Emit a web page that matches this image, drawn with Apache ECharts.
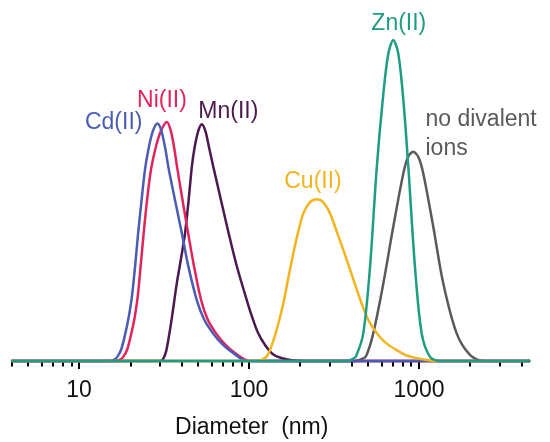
<!DOCTYPE html>
<html>
<head>
<meta charset="utf-8">
<script src="https://cdn.jsdelivr.net/npm/echarts@6/dist/echarts.min.js"></script>
<style>html,body{margin:0;padding:0;background:#fff;}#c{width:550px;height:442px;}</style>
</head>
<body>
<div id="c"></div>
<script>
// Diameter axis range (nm) and tick values
var xMin = 4, xMax = 4500;
var majorTicks = [10, 100, 1000];
var minorTicks = [4,5,6,7,8,9,20,30,40,50,60,70,80,90,200,300,400,500,600,700,800,900,2000,3000,4000];

// Series: [diameter (nm), relative intensity]
var cdData = [[4,0],[15.22,0],[16.07,0.4],[16.73,1.2],[17.66,3.5],[18.65,8.3],[19.55,13.5],[20.42,19.8],[21.35,29.5],[22.23,39.6],[23.32,50.2],[24.43,59.8],[25.81,67],[27.25,71.8],[28.88,74],[30.37,72],[32.06,66.5],[33.52,60.4],[36.71,50],[40.19,39.9],[43.96,29.4],[49.24,19],[54.36,13],[61.41,8.6],[70.33,5],[80.53,2.5],[97.32,0],[4500,0]];
var niData = [[4,0],[16.5,0],[17.42,0.4],[18.15,1.2],[19.16,3.5],[20.23,8.3],[21.21,13.5],[22.09,19.8],[23.01,29.5],[23.96,39.6],[25.12,50.2],[26.51,59.8],[28.38,67],[30.37,71.8],[32.81,74.5],[34.53,72],[36.22,66.5],[37.72,60.4],[40.63,50],[43.78,39.9],[47.49,29.4],[52.2,19],[57.0,13],[63.97,8.6],[72.75,5],[82.72,2.5],[101.4,0],[4500,0]];
var mnData = [[4,0],[29.96,0],[31.2,0.6],[32.5,3],[33.84,8],[35.25,14],[37.56,24.2],[39.81,32],[42.03,39.9],[44.08,50],[46.03,60.4],[47.81,66.5],[50.12,71.5],[52.7,73.8],[55.47,71.5],[58.17,66.5],[61.66,60.4],[68.44,50],[75.53,40.2],[85.03,29.2],[96.93,19],[104.1,13.8],[112.9,8.8],[124.2,5],[139,2],[162.9,0.6],[199.5,0],[4500,0]];
var cuData = [[4,0],[112.9,0],[119.3,0.4],[125.9,1.2],[132.9,3.4],[144.1,9],[159.2,18],[169.6,25.5],[182.2,33.6],[194.2,40],[208.6,46],[228.5,49.5],[250.1,50.4],[272.4,49.5],[299.6,46],[327.1,40.5],[358.6,34.6],[392.8,28.5],[430.1,22.3],[470.3,16.5],[515,11.8],[589.7,7.4],[657.2,5.1],[739.1,3.4],[838.3,1.8],[969.4,0.9],[1271,0],[4500,0]];
var znData = [[4,0],[377.2,0],[403.6,0.5],[426,1.5],[470,8.6],[515,29.3],[564,60.2],[617,83.3],[660,95.8],[706,100],[755,95.8],[809,81.3],[866,60.2],[947,29.3],[1037,8.6],[1161,1.3],[1330,0],[4500,0]];
var noneData = [[4,0],[426.1,0],[455.9,0.5],[487.8,1.5],[538,8.6],[617,24.2],[706,41.9],[809,58.5],[861,63.5],[925,65.2],[993,63.5],[1059,58.5],[1213,41.9],[1389,24.2],[1666,8.6],[1995,1.9],[2389,0],[4500,0]];

var seriesNames = ['no divalent ions','Mn(II)','Ni(II)','Cd(II)','Cu(II)','Zn(II)'];
var seriesData = [noneData, mnData, niData, cdData, cuData, znData];
var seriesColors = ['#5a5a5a','#4a1a4f','#e1245c','#4a5cb3','#f2b51f','#1e9c84'];
var labelColor = {'no divalent ions': '#5a5a5a', 'Mn(II)': '#4a1a4f', 'Ni(II)': '#e1245c', 'Cd(II)': '#4a5cb3', 'Cu(II)': '#f2b51f', 'Zn(II)': '#1e9c84'};

var lg = function (v) { return Math.log10(v); };
var FONT = '"Liberation Sans", Arial, sans-serif';

var chart = echarts.init(document.getElementById('c'), null, {renderer: 'canvas'});

var series = seriesData.map(function (d, i) {
  return {
    name: seriesNames[i],
    type: 'line',
    xAxisIndex: 0,
    data: d.map(function (p) { return [lg(p[0]), p[1]]; }),
    smooth: 0.3,
    symbol: 'none',
    clip: false,
    lineStyle: {color: seriesColors[i], width: 2.5},
    z: 3 + i
  };
});

var labels = [
  {text: 'Cd(II)', x: 113.7, y: 122.5, color: labelColor['Cd(II)'], align: 'center'},
  {text: 'Ni(II)', x: 162, y: 100.5, color: labelColor['Ni(II)'], align: 'center'},
  {text: 'Mn(II)', x: 228.3, y: 111.7, color: labelColor['Mn(II)'], align: 'center'},
  {text: 'Cu(II)', x: 313, y: 181.7, color: labelColor['Cu(II)'], align: 'center'},
  {text: 'Zn(II)', x: 398.8, y: 23.8, color: labelColor['Zn(II)'], align: 'center'},
  {text: 'no divalent', x: 425.5, y: 120, color: labelColor['no divalent ions'], align: 'left'},
  {text: 'ions', x: 425.5, y: 148.5, color: labelColor['no divalent ions'], align: 'left'}
];

chart.setOption({
  backgroundColor: '#ffffff',
  animation: false,
  grid: {left: 11.5, right: 20, top: 24, bottom: 81, containLabel: false, outerBoundsMode: 'none'},
  xAxis: [
    {
      type: 'value', min: lg(xMin), max: lg(xMax), position: 'bottom',
      splitLine: {show: false},
      axisLine: {show: true, onZero: false, lineStyle: {color: '#000', width: 1.5}},
      axisTick: {show: true, length: 8, lineStyle: {color: '#000', width: 2}, customValues: majorTicks.map(lg)},
      axisLabel: {show: true, margin: 18, fontFamily: FONT, fontSize: 23, color: '#111',
        customValues: majorTicks.map(lg),
        formatter: function (v) { return String(Math.round(Math.pow(10, v))); }},
      name: 'Diameter  (nm)', nameLocation: 'middle', nameGap: 55,
      nameTextStyle: {fontFamily: FONT, fontSize: 23, color: '#111', padding: [0, 38, 0, 0]}
    },
    {
      type: 'value', min: lg(xMin), max: lg(xMax), position: 'bottom',
      splitLine: {show: false},
      axisLine: {show: false},
      axisTick: {show: true, length: 5.5, lineStyle: {color: '#000', width: 2}, customValues: minorTicks.map(lg)},
      axisLabel: {show: false}
    }
  ],
  yAxis: {
    type: 'value', min: 0, max: 105, show: false, splitLine: {show: false}
  },
  series: series,
  graphic: labels.map(function (l) {
    return {
      type: 'text', x: l.x, y: l.y, z: 100,
      style: {text: l.text, fill: l.color, font: '23px ' + FONT, textAlign: l.align, textVerticalAlign: 'middle'}
    };
  })
});
</script>
</body>
</html>
